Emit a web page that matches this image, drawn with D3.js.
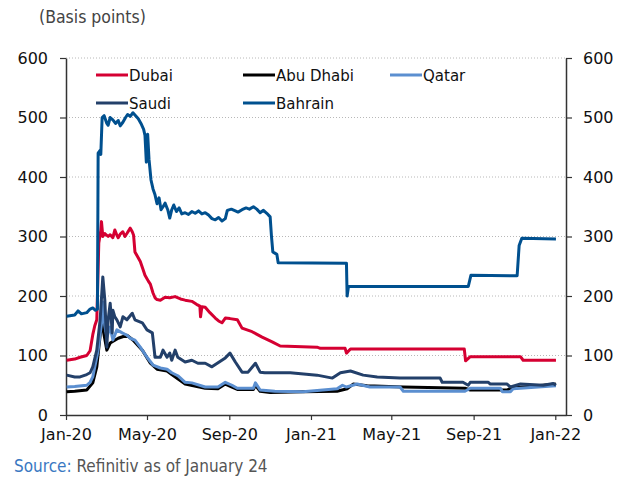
<!DOCTYPE html>
<html>
<head>
<meta charset="utf-8">
<script src="https://cdn.jsdelivr.net/npm/d3@7"></script>
<style>
  body { margin: 0; background: #fff; }
</style>
</head>
<body>
<div id="chart"></div>
<script>
// spreads in basis points
let dubai = [["2020-01-02",92],["2020-01-14",94],["2020-01-22",97],["2020-02-01",100],["2020-02-06",108],["2020-02-10",135],["2020-02-13",150],["2020-02-16",160],["2020-02-19",289],["2020-02-22",310],["2020-02-23",325],["2020-02-25",300],["2020-02-28",305],["2020-03-04",300],["2020-03-07",303],["2020-03-11",298],["2020-03-14",311],["2020-03-17",302],["2020-03-19",298],["2020-03-22",304],["2020-03-26",308],["2020-03-29",300],["2020-04-01",305],["2020-04-06",314],["2020-04-09",308],["2020-04-11",302],["2020-04-13",274],["2020-04-16",268],["2020-04-21",258],["2020-04-25",245],["2020-04-28",235],["2020-05-03",225],["2020-05-06",220],["2020-05-10",205],["2020-05-13",197],["2020-05-16",194],["2020-05-21",193],["2020-05-28",198],["2020-06-04",197],["2020-06-12",199],["2020-06-20",195],["2020-06-27",193],["2020-07-07",191],["2020-07-14",186],["2020-07-19",183],["2020-07-20",165],["2020-07-22",182],["2020-07-27",181],["2020-08-03",172],["2020-08-11",163],["2020-08-16",158],["2020-08-21",155],["2020-08-26",163],["2020-09-02",162],["2020-09-13",160],["2020-09-20",146],["2020-10-05",140],["2020-10-20",131],["2020-11-04",123],["2020-11-16",116],["2021-01-10",114],["2021-01-15",112],["2021-02-21",112],["2021-02-23",104],["2021-03-01",111],["2021-08-18",111],["2021-08-20",91],["2021-08-27",98],["2021-11-10",98],["2021-11-14",92],["2022-01-02",92]]

let abuDhabi = [["2020-01-02",39],["2020-01-14",40],["2020-02-01",42],["2020-02-10",54],["2020-02-16",81],["2020-02-24",165],["2020-02-26",140],["2020-03-02",109],["2020-03-07",121],["2020-03-19",129],["2020-04-01",134],["2020-04-10",126],["2020-04-24",109],["2020-05-06",87],["2020-05-16",77],["2020-05-31",74],["2020-06-07",68],["2020-06-27",52],["2020-07-27",45],["2020-08-15",44],["2020-08-26",52],["2020-09-05",47],["2020-09-13",43],["2020-10-07",43],["2020-10-10",50],["2020-10-17",40],["2020-11-01",38],["2020-12-20",39],["2021-02-09",40],["2021-02-24",44],["2021-03-05",52],["2021-03-26",49],["2021-05-19",47],["2021-08-19",45],["2021-08-27",42],["2021-10-21",42],["2021-10-26",45],["2022-01-02",52]]

let qatar = [["2020-01-02",47],["2020-01-14",48],["2020-02-01",50],["2020-02-06",55],["2020-02-10",64],["2020-02-18",109],["2020-02-24",163],["2020-02-25",190],["2020-02-28",150],["2020-03-02",131],["2020-03-07",148],["2020-03-11",126],["2020-03-17",143],["2020-03-25",138],["2020-04-01",134],["2020-04-06",129],["2020-04-13",126],["2020-04-21",114],["2020-05-01",97],["2020-05-10",84],["2020-05-21",79],["2020-05-31",77],["2020-06-07",71],["2020-06-16",66],["2020-06-27",55],["2020-07-07",54],["2020-07-27",47],["2020-08-15",47],["2020-08-26",55],["2020-09-05",50],["2020-09-13",45],["2020-10-07",45],["2020-10-10",54],["2020-10-17",42],["2020-11-08",40],["2020-12-20",39],["2021-02-09",44],["2021-02-17",50],["2021-02-23",47],["2021-03-11",52],["2021-03-30",47],["2021-05-14",47],["2021-05-19",40],["2021-08-19",40],["2021-08-27",45],["2021-10-11",45],["2021-10-14",39],["2021-10-26",39],["2021-10-30",44],["2022-01-02",49]]

let saudi = [["2020-01-02",67],["2020-01-14",64],["2020-01-22",64],["2020-02-01",68],["2020-02-06",71],["2020-02-10",81],["2020-02-16",109],["2020-02-21",160],["2020-02-25",232],["2020-02-28",193],["2020-03-02",114],["2020-03-04",160],["2020-03-07",188],["2020-03-10",138],["2020-03-11",176],["2020-03-14",165],["2020-03-17",160],["2020-03-22",148],["2020-03-26",165],["2020-04-01",160],["2020-04-09",171],["2020-04-13",160],["2020-04-24",155],["2020-05-01",143],["2020-05-09",138],["2020-05-13",97],["2020-05-21",97],["2020-05-25",109],["2020-05-31",97],["2020-06-04",104],["2020-06-07",92],["2020-06-12",109],["2020-06-16",97],["2020-06-27",89],["2020-07-07",92],["2020-07-16",87],["2020-07-27",87],["2020-08-06",81],["2020-08-14",87],["2020-08-26",96],["2020-09-02",104],["2020-09-10",89],["2020-09-20",72],["2020-09-29",72],["2020-10-10",87],["2020-10-17",72],["2020-10-24",71],["2020-11-08",71],["2020-12-01",71],["2021-01-10",67],["2021-02-02",62],["2021-02-14",71],["2021-03-01",74],["2021-03-20",67],["2021-04-10",64],["2021-05-14",62],["2021-06-13",62],["2021-07-13",62],["2021-07-16",55],["2021-08-16",55],["2021-08-24",50],["2021-08-27",55],["2021-09-23",55],["2021-09-26",52],["2021-10-21",52],["2021-10-26",47],["2021-11-10",52],["2021-12-14",50],["2021-12-29",53],["2022-01-02",50]]

let bahrain = [["2020-01-02",166],["2020-01-14",168],["2020-01-19",175],["2020-01-24",170],["2020-02-01",172],["2020-02-06",178],["2020-02-10",180],["2020-02-14",176],["2020-02-17",178],["2020-02-18",440],["2020-02-21",445],["2020-02-22",438],["2020-02-24",500],["2020-02-27",503],["2020-03-02",490],["2020-03-04",487],["2020-03-07",500],["2020-03-11",496],["2020-03-15",490],["2020-03-19",495],["2020-03-22",486],["2020-03-26",492],["2020-03-30",500],["2020-04-02",505],["2020-04-06",502],["2020-04-10",508],["2020-04-14",503],["2020-04-18",498],["2020-04-22",490],["2020-04-26",480],["2020-04-28",470],["2020-04-30",425],["2020-05-02",472],["2020-05-04",430],["2020-05-07",395],["2020-05-10",380],["2020-05-13",370],["2020-05-16",355],["2020-05-19",365],["2020-05-22",345],["2020-05-25",350],["2020-05-28",356],["2020-06-01",345],["2020-06-04",331],["2020-06-07",345],["2020-06-10",353],["2020-06-14",342],["2020-06-18",348],["2020-06-22",338],["2020-06-27",340],["2020-07-02",337],["2020-07-07",342],["2020-07-12",339],["2020-07-17",343],["2020-07-22",338],["2020-07-27",340],["2020-08-01",336],["2020-08-06",330],["2020-08-11",328],["2020-08-16",332],["2020-08-21",326],["2020-08-26",330],["2020-08-29",344],["2020-09-04",346],["2020-09-10",343],["2020-09-14",341],["2020-09-20",345],["2020-09-26",348],["2020-10-01",346],["2020-10-07",350],["2020-10-12",346],["2020-10-17",340],["2020-10-22",344],["2020-10-27",339],["2020-11-01",333],["2020-11-03",300],["2020-11-05",274],["2020-11-08",272],["2020-11-11",270],["2020-11-13",256],["2021-02-23",255],["2021-02-24",200],["2021-02-26",216],["2021-08-24",216],["2021-08-28",235],["2021-11-05",234],["2021-11-08",285],["2021-11-12",297],["2022-01-02",296]]

let seriesNames = ["Dubai", "Abu Dhabi", "Qatar", "Saudi", "Bahrain"]
let seriesColors = ["#d50032", "#000000", "#5b8fd0", "#23406a", "#00508f"]
let yTicks = [0, 100, 200, 300, 400, 500, 600]
let xTickLabels = ["Jan-20", "May-20", "Sep-20", "Jan-21", "May-21", "Sep-21", "Jan-22"]

let width = 627, height = 479
let margin = { left: 66, right: 61, top: 58, bottom: 64 }
let parse = d3.timeParse("%Y-%m-%d")
let tickFont = "'DejaVu Sans', sans-serif"
let narrowFont = "'DejaVu Sans Condensed', 'Liberation Sans Narrow', sans-serif"

let series = [dubai, abuDhabi, qatar, saudi, bahrain].map((s, i) => ({
  name: seriesNames[i],
  color: seriesColors[i],
  values: s.map(d => ({ date: parse(d[0]), value: d[1] }))
}))

let scaleX = d3.scaleTime()
  .domain([parse("2020-01-01"), parse("2022-01-17")])
  .range([margin.left, width - margin.right])

let scaleY = d3.scaleLinear()
  .domain([0, 600])
  .range([height - margin.bottom, margin.top])

let svg = d3.select("#chart")
  .append("svg")
  .attr("width", width)
  .attr("height", height)

// dotted gridlines
svg.append("g")
  .selectAll("line")
  .data(yTicks.filter(d => d > 0))
  .join("line")
    .attr("x1", margin.left)
    .attr("x2", width - margin.right)
    .attr("y1", d => scaleY(d))
    .attr("y2", d => scaleY(d))
    .attr("stroke", "#b8b8b8")
    .attr("stroke-width", 1)
    .attr("stroke-dasharray", "1,2")

let styleAxis = g => g
  .call(g => g.select(".domain").attr("stroke", "#333").attr("stroke-width", 1.5))
  .call(g => g.selectAll(".tick line").attr("stroke", "#333").attr("stroke-width", 1.2))
  .call(g => g.selectAll(".tick text")
    .attr("font-family", tickFont)
    .attr("font-size", "16px")
    .attr("fill", "#111"))

svg.append("g")
  .attr("transform", `translate(${margin.left}, 0)`)
  .call(d3.axisLeft(scaleY).tickValues(yTicks).tickSize(6).tickSizeOuter(0).tickPadding(12))
  .call(styleAxis)

svg.append("g")
  .attr("transform", `translate(${width - margin.right}, 0)`)
  .call(d3.axisRight(scaleY).tickValues(yTicks).tickSize(6).tickSizeOuter(0).tickPadding(11))
  .call(styleAxis)

let xTicks = xTickLabels.map(l => d3.timeParse("%b-%y")(l))
svg.append("g")
  .attr("transform", `translate(0, ${height - margin.bottom})`)
  .call(d3.axisBottom(scaleX).tickValues(xTicks).tickSize(5).tickSizeOuter(0).tickPadding(9)
    .tickFormat(d3.timeFormat("%b-%y")))
  .call(styleAxis)

let line = d3.line()
  .x(d => scaleX(d.date))
  .y(d => scaleY(d.value))

svg.append("g")
  .selectAll("path")
  .data(series)
  .join("path")
    .attr("d", s => line(s.values))
    .attr("fill", "none")
    .attr("stroke", s => s.color)
    .attr("stroke-width", 3)
    .attr("stroke-linejoin", "round")

// legend, two rows of three
let legend = svg.append("g")
  .selectAll("g")
  .data(series)
  .join("g")
    .attr("transform", (s, i) => `translate(${96 + (i % 3) * 147}, ${75 + Math.floor(i / 3) * 28})`)

legend.append("line")
  .attr("x1", 0).attr("x2", 32)
  .attr("stroke", s => s.color)
  .attr("stroke-width", 3)

legend.append("text")
  .attr("x", 33)
  .attr("y", 5.5)
  .attr("font-family", tickFont)
  .attr("font-size", "15px")
  .attr("fill", "#111")
  .text(s => s.name)

svg.append("text")
  .attr("x", 39)
  .attr("y", 23)
  .attr("font-family", narrowFont)
  .attr("font-size", "17.5px")
  .attr("fill", "#444")
  .text("(Basis points)")

svg.append("text")
  .attr("x", 14)
  .attr("y", 472)
  .attr("font-family", narrowFont)
  .attr("font-size", "17px")
  .attr("fill", "#555")
  .call(t => t.append("tspan").attr("fill", "#3a78c2").text("Source:"))
  .call(t => t.append("tspan").text(" Refinitiv as of January 24"))
</script>
</body>
</html>
